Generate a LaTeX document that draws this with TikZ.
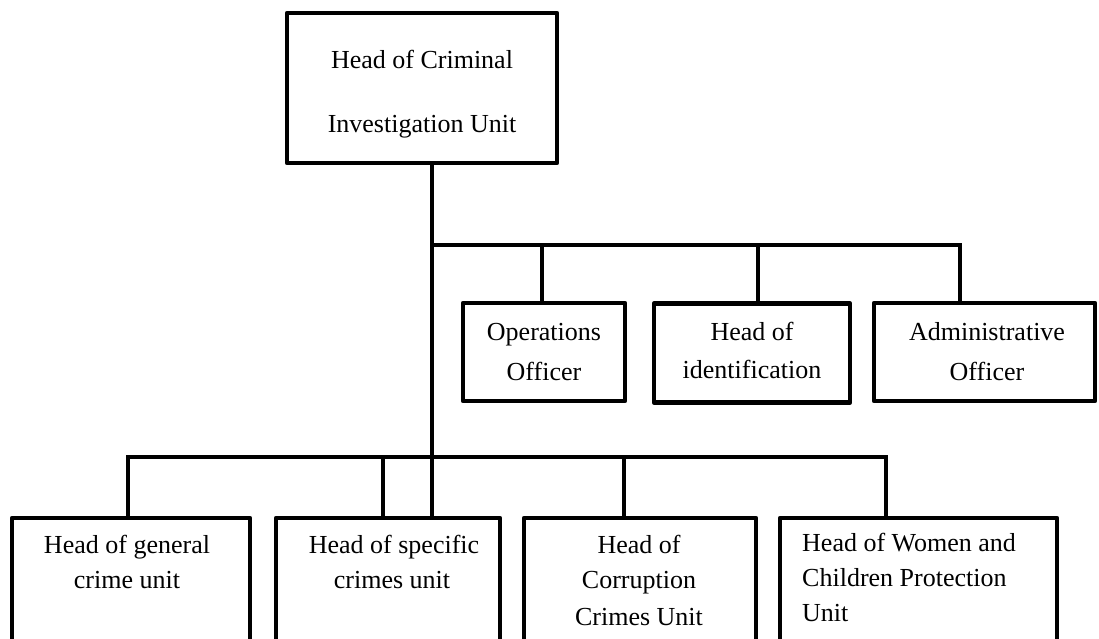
\documentclass[tikz,border=0pt]{standalone}
\usepackage{fontspec}
\setmainfont{Liberation Serif}
\begin{document}
\begin{tikzpicture}[x=1pt,y=-1pt,
  orgbox/.style={draw, line width=4.5pt, line join=round, inner sep=0pt, fill=none},
  conn/.style={draw, line width=3.3pt},
  txt/.style={anchor=base, inner sep=0pt, font=\fontsize{26}{30}\selectfont},
  txtl/.style={anchor=base west, inner sep=0pt, font=\fontsize{26}{30}\selectfont}]
\useasboundingbox (0,0) rectangle (1099,638);
\clip (0,0) rectangle (1099,638);
% boxes
\node[orgbox, minimum width=270pt, minimum height=150pt] (top) at (422,88) {};
\node[orgbox, minimum width=162pt, minimum height=98pt] (ops) at (544,352) {};
\node[orgbox, minimum width=196pt, minimum height=99pt] (ident) at (752,353) {};
\node[orgbox, minimum width=221pt, minimum height=98pt] (admin) at (984.5,352) {};
\node[orgbox, minimum width=238pt, minimum height=142pt] (b1) at (131,589) {};
\node[orgbox, minimum width=224pt, minimum height=142pt] (b2) at (388,589) {};
\node[orgbox, minimum width=232pt, minimum height=142pt] (b3) at (640,589) {};
\node[orgbox, minimum width=277pt, minimum height=142pt] (b4) at (918.5,589) {};
% junctions
\coordinate (j1) at (432,245);
\coordinate (ta) at (542,245);
\coordinate (tb) at (758,245);
\coordinate (tc) at (960,245);
\coordinate (la) at (128,457);
\coordinate (lb) at (383,457);
\coordinate (lc) at (624,457);
\coordinate (ld) at (886,457);
% connectors
\draw[conn] (top.south -| j1) -- (b2.north -| j1);
\draw[conn] (j1) -- (tc) -- (admin.north -| tc);
\draw[conn] (ta) -- (ops.north -| ta);
\draw[conn] (tb) -- (ident.north -| tb);
\draw[conn] (b1.north -| la) -- (la) -- (ld) -- (b4.north -| ld);
\draw[conn] (lb) -- (b2.north -| lb);
\draw[conn] (lc) -- (b3.north -| lc);
% texts
\node[txt] (top1) at (422,68) {Head of Criminal};
\node[txt] (top2) at (422,132) {Investigation Unit};
\node[txt] (ops1) at (544,340) {Operations};
\node[txt] (ops2) at (544,380) {Officer};
\node[txt] (id1) at (752,340) {Head of};
\node[txt] (id2) at (752,378) {identification};
\node[txt] (ad1) at (987,340) {Administrative};
\node[txt] (ad2) at (987,380) {Officer};
\node[txt] (b1a) at (127,553) {Head of general};
\node[txt] (b1b) at (127,588) {crime unit};
\node[txt] (b2a) at (394,553) {Head of specific};
\node[txt] (b2b) at (392,588) {crimes unit};
\node[txt] (b3a) at (639,553) {Head of};
\node[txt] (b3b) at (639,588) {Corruption};
\node[txt] (b3c) at (639,625) {Crimes Unit};
\node[txtl] (b4a) at (802,551) {Head of Women and};
\node[txtl] (b4b) at (802,586) {Children Protection};
\node[txtl] (b4c) at (802,621) {Unit};
\end{tikzpicture}
\end{document}
